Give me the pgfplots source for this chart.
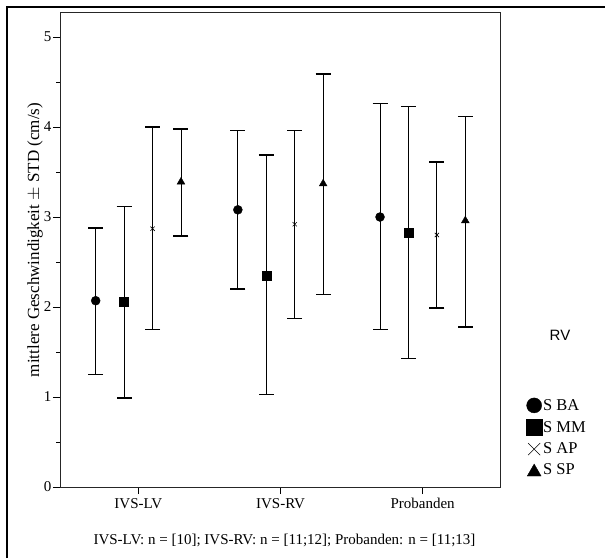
\documentclass[border=0pt]{standalone}
\usepackage{fontspec}
\setmainfont{Liberation Serif}
\newfontfamily\arialfont{Liberation Sans}
\usepackage{pgfplots}
\pgfplotsset{compat=1.18}
\usepackage{pgfplotstable}

\pgfplotstableread{
x y ep em
-0.3 2.07 0.81 0.82
0.7 3.08 0.88 0.88
1.7 3.00 1.26 1.25
}\sba
\pgfplotstableread{
x y ep em
-0.1 2.06 1.06 1.07
0.9 2.35 1.34 1.32
1.9 2.83 1.40 1.40
}\smm
\pgfplotstableread{
x y ep em
0.1 2.87 1.13 1.12
1.1 2.92 1.04 1.045
2.1 2.80 0.81 0.81
}\sap
\pgfplotstableread{
x y ep em
0.3 3.39 0.59 0.60
1.3 3.37 1.22 1.23
2.3 2.96 1.16 1.18
}\ssp

\begin{document}
\begin{tikzpicture}[x=1pt,y=1pt]
\useasboundingbox (0,0) rectangle (605,558);
\draw[line width=2pt] (7,0) -- (7,551) -- (605,551);
\begin{axis}[
  at={(60pt,71pt)}, anchor=south west,
  scale only axis, width=440pt, height=475pt,
  xmin=-0.551, xmax=2.544, ymin=0, ymax=5.278,
  axis line style={black!85, line width=0.8pt},
  xtick={0,1,2}, xticklabels={IVS-LV,IVS-RV,Probanden},
  ytick={0,1,2,3,4,5}, minor ytick={0.5,1.5,2.5,3.5,4.5},
  xtick pos=bottom, ytick pos=left,
  tick align=outside,
  major tick length=7pt, minor tick length=3.5pt,
  tick style={black, line width=0.8pt},
  ticklabel style={font=\fontsize{15}{18}\selectfont},
  /pgf/number format/assume math mode=true,
  yticklabel style={inner sep=1.5pt},
  xticklabel style={inner sep=4pt},
  legend style={at={(1.059,0.188)}, anchor=north west, draw=none, fill=none,
    font=\fontsize{16.5}{18}\selectfont, row sep=6.5pt, inner sep=0pt,
    nodes={inner sep=1pt}, cells={anchor=west}},
  error bars/error bar style={line width=0.9pt, black},
  error bars/error mark options={rotate=90, mark size=7.5pt, line width=1.4pt, black},
  clip=false,
]
\addplot[only marks, black, mark=*, mark size=4.5pt,
  legend image code/.code={\draw[black, fill=black] plot[only marks, mark=*, mark size=7.5pt] coordinates {(8pt,0pt)};},
  error bars/.cd, y dir=both, y explicit]
  table[x=x, y=y, y error plus=ep, y error minus=em]{\sba};
\addlegendentry{S BA}
\addplot[only marks, black, mark=square*, mark size=4.5pt,
  legend image code/.code={\draw[black, fill=black] plot[only marks, mark=square*, mark size=8pt] coordinates {(8pt,0pt)};},
  error bars/.cd, y dir=both, y explicit]
  table[x=x, y=y, y error plus=ep, y error minus=em]{\smm};
\addlegendentry{S MM}
\addplot[only marks, black, mark=x, mark size=3pt, mark options={line width=0.6pt},
  legend image code/.code={\draw[black, line width=0.8pt] plot[only marks, mark=x, mark size=8.5pt] coordinates {(8pt,0pt)};},
  error bars/.cd, y dir=both, y explicit]
  table[x=x, y=y, y error plus=ep, y error minus=em]{\sap};
\addlegendentry{S AP}
\addplot[only marks, black, mark=triangle*, mark size=4.5pt,
  legend image code/.code={\draw[black, fill=black] plot[only marks, mark=triangle*, mark size=8pt] coordinates {(8pt,-2pt)};},
  error bars/.cd, y dir=both, y explicit]
  table[x=x, y=y, y error plus=ep, y error minus=em]{\ssp};
\addlegendentry{S SP}
\end{axis}
\node[font=\fontsize{17}{20}\selectfont, rotate=90] at (35,318) {mittlere Geschwindigkeit $\pm$ STD (cm/s)};
\node[font=\arialfont\fontsize{15}{18}\selectfont] at (560,223) {RV};
\node[font=\fontsize{15}{18}\selectfont, anchor=base] at (284.5,14) {IVS-LV: n = [10]; IVS-RV: n = [11;12]; Probanden: n = [11;13]};
\end{tikzpicture}
\end{document}
